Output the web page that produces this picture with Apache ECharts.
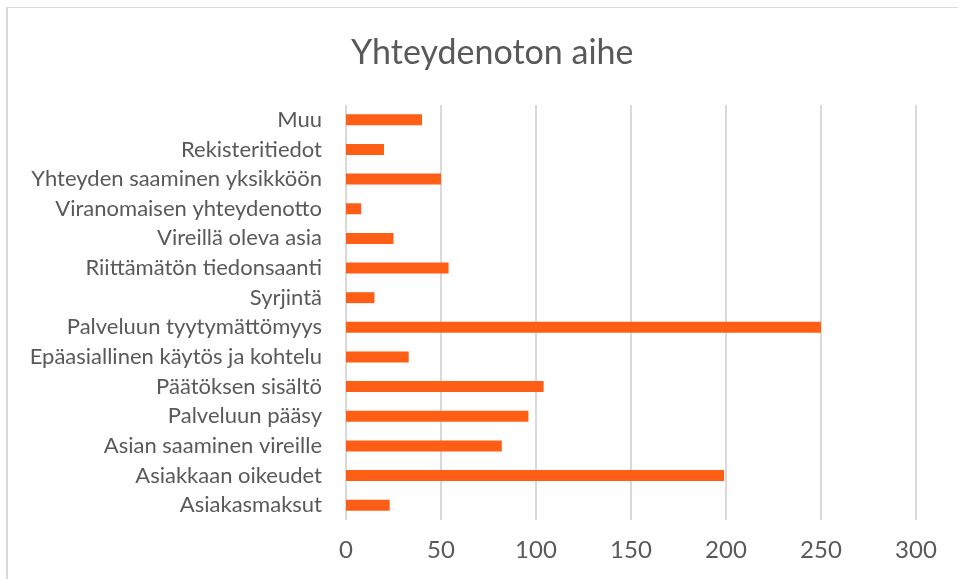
<!DOCTYPE html>
<html>
<head>
<meta charset="utf-8">
<script src="https://cdn.jsdelivr.net/npm/echarts@6/dist/echarts.min.js"></script>
<style>
  html, body { margin: 0; padding: 0; background: #fff; }
  #frame {
    position: absolute; left: 6px; top: 7px; right: 0; bottom: 0;
    border-left: 2px solid #d9d9d9; border-top: 1px solid #d9d9d9;
  }
  #chart { position: absolute; left: 0; top: 0; width: 958px; height: 579px; }
</style>
</head>
<body>
<div id="frame"></div>
<div id="chart"></div>
<script>
// categories listed bottom to top (ECharts category axis starts at the bottom)
const categories = [
  'Asiakasmaksut',
  'Asiakkaan oikeudet',
  'Asian saaminen vireille',
  'Palveluun pääsy',
  'Päätöksen sisältö',
  'Epäasiallinen käytös ja kohtelu',
  'Palveluun tyytymättömyys',
  'Syrjintä',
  'Riittämätön tiedonsaanti',
  'Vireillä oleva asia',
  'Viranomaisen yhteydenotto',
  'Yhteyden saaminen yksikköön',
  'Rekisteritiedot',
  'Muu'
]
const counts = [23, 199, 82, 96, 104, 33, 250, 15, 54, 25, 8, 50, 20, 40]

const chart = echarts.init(document.getElementById('chart'))

const option = {
  animation: false,
  textStyle: { fontFamily: 'Lato' },
  title: {
    text: 'Yhteydenoton aihe',
    left: 346,
    top: 31,
    textStyle: { fontFamily: 'Lato', fontSize: 34, fontWeight: 'normal', color: '#595959' }
  },
  grid: {
    left: 346,
    right: 42,
    top: 105,
    bottom: 59
  },
  xAxis: {
    type: 'value',
    min: 0,
    max: 300,
    interval: 50,
    axisLine: { show: false },
    axisTick: { show: false },
    axisLabel: { color: '#595959', fontSize: 24, margin: 18 },
    splitLine: { lineStyle: { color: '#d9d9d9', width: 2 } }
  },
  yAxis: {
    type: 'category',
    data: categories,
    axisLine: { show: false },
    axisTick: { show: false },
    axisLabel: { color: '#595959', fontSize: 22, margin: 24 }
  },
  series: [
    {
      type: 'bar',
      data: counts,
      barWidth: '37%',
      itemStyle: { color: '#FE5E15' }
    }
  ]
}

chart.setOption(option)
</script>
</body>
</html>
